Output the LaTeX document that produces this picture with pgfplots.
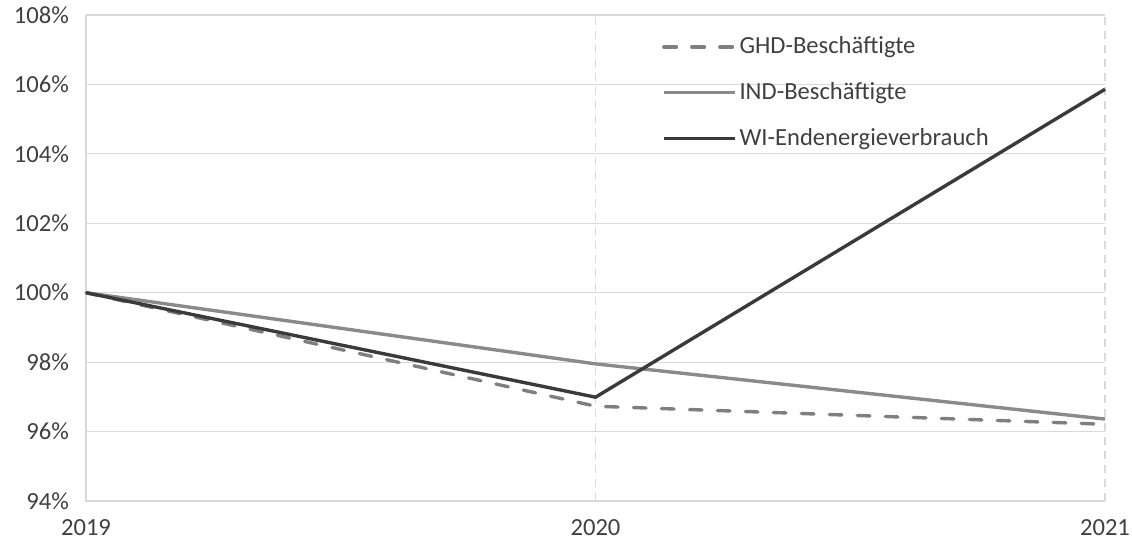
\documentclass[border=0pt]{standalone}
\usepackage{pgfplots}
\pgfplotsset{compat=1.18}
\usepackage{fontspec}
\setmainfont{Carlito}

\definecolor{gridgray}{HTML}{D9D9D9}
\definecolor{txtgray}{HTML}{404040}
\definecolor{ghdgray}{HTML}{7F7F7F}
\definecolor{indgray}{HTML}{8A8A8A}
\definecolor{widark}{HTML}{3A3A3A}

\begin{document}
\begin{tikzpicture}
\path[use as bounding box] (-43pt,-21.5pt) rectangle (523pt,250.5pt);
\begin{axis}[
  at={(0,0)}, anchor=south west,
  scale only axis,
  width=509.5pt, height=243pt,
  xmin=2019, xmax=2021, ymin=94, ymax=108,
  xtick={2019,2020,2021},
  xticklabels={2019,2020,2021},
  ytick={94,96,...,108},
  yticklabel={\pgfmathprintnumber[fixed,precision=0]{\tick}\%},
  /pgf/number format/assume math mode=true,
  tick style={draw=none},
  axis line style={draw=none},
  font=\fontsize{12.3pt}{14pt}\selectfont,
  tick label style={text=txtgray},
  yticklabel style={xshift=-5pt},
  xticklabel style={inner sep=0pt, outer sep=0pt, yshift=-9.5pt},
  ymajorgrids,
  major grid style={gridgray, line width=0.6pt},
  clip=false,
  legend style={at={(0.565,0.962)}, anchor=north west, draw=none, fill=none,
    font=\fontsize{12.3pt}{14pt}\selectfont, text=txtgray,
    row sep=9.8pt, inner sep=0pt,
    nodes={inner sep=1.5pt}},
  legend cell align=left,
  legend image code/.code={\draw[#1] (0pt,0pt) -- (35.5pt,0pt);},
]
% axis frame: solid left and bottom, dashed verticals at 2020 and 2021
\draw[gridgray, line width=0.6pt] (axis cs:2019,108) -- (axis cs:2019,94) -- (axis cs:2021,94);
\draw[gridgray, line width=0.6pt, dash pattern=on 4pt off 3pt] (axis cs:2020,94) -- (axis cs:2020,108);
\draw[gridgray, line width=0.6pt, dash pattern=on 4pt off 3pt] (axis cs:2021,94) -- (axis cs:2021,108);

\addplot[ghdgray, line width=1.7pt, line cap=round, dash pattern=on 6.3pt off 7.7pt]
  coordinates {(2019,100) (2020,96.73) (2021,96.21)};
\addlegendentry{GHD-Beschäftigte}
\addplot[indgray, line width=1.7pt]
  coordinates {(2019,100) (2020,97.95) (2021,96.36)};
\addlegendentry{IND-Beschäftigte}
\addplot[widark, line width=1.7pt]
  coordinates {(2019,100) (2020,96.99) (2021,105.86)};
\addlegendentry{WI-Endenergieverbrauch}
\end{axis}
\end{tikzpicture}
\end{document}
